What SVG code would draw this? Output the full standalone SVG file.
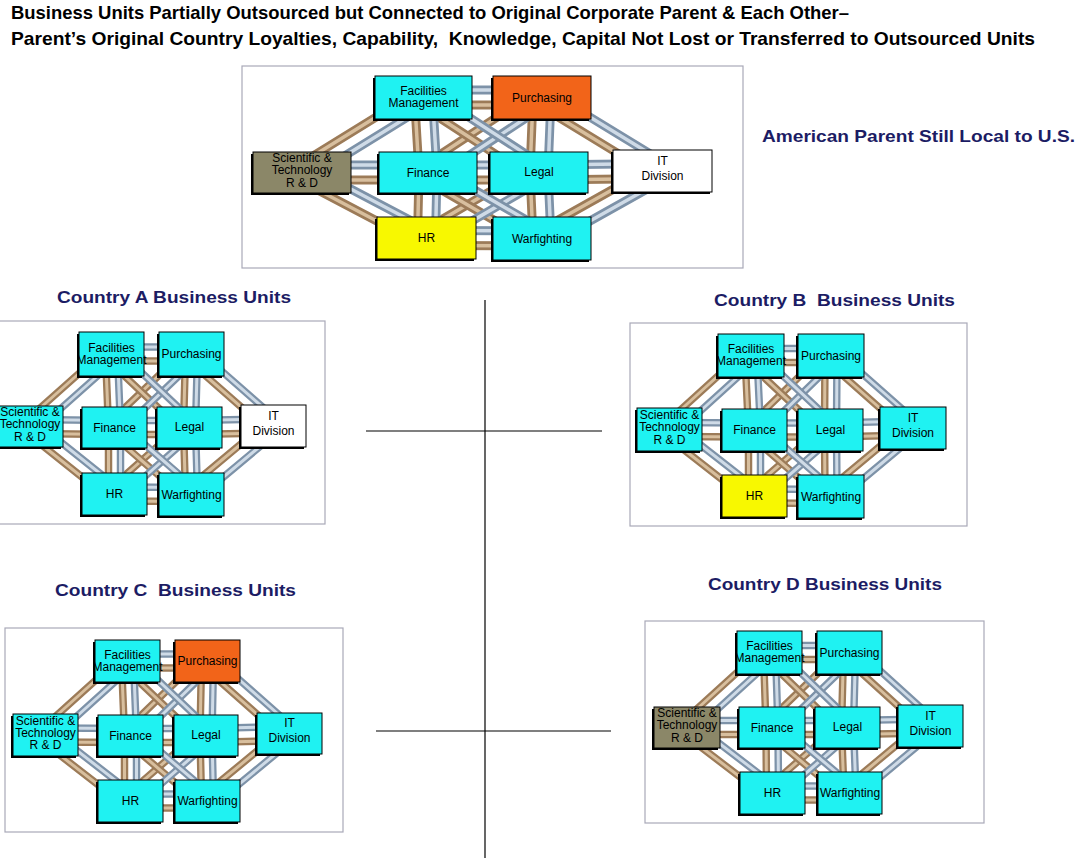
<svg xmlns="http://www.w3.org/2000/svg" width="1081" height="859" viewBox="0 0 1081 859">
<style>
.frame{fill:#fff;stroke:#a9a9b8;stroke-width:1.2}
.tb{fill:none;stroke:#9c7b58;stroke-width:9}
.th{fill:none;stroke:#d8bf9e;stroke-width:3.5}
.bb{fill:none;stroke:#7d92a8;stroke-width:9}
.bh{fill:none;stroke:#cfdbe7;stroke-width:3.5}
.sm .tb,.sm .bb{stroke-width:7.5}
.sm .th,.sm .bh{stroke-width:3}
.sh{fill:#000}
.bx{stroke:#000;stroke-width:1}
.cy{fill:#1ff2f2}
.or{fill:#f26419}
.ye{fill:#f8f800}
.ol{fill:#8b8768}
.wh{fill:#fff}
.nt{font-family:"Liberation Sans",Arial,sans-serif;font-size:12px;text-anchor:middle;fill:#000}
.hd{font-family:"Liberation Sans",Arial,sans-serif;font-size:19px;font-weight:bold;fill:#000}
.ct{font-family:"Liberation Sans",Arial,sans-serif;font-size:17px;font-weight:bold;fill:#1c1c64}
.dv{stroke:#000;stroke-width:1.2}
</style>
<defs>
<path id="T-H" d="M423.5,97.5 L542,97.5 M302,172.5 L428,172.5 M428,172.5 L539,172.5 M539,172.5 L662.5,171 M426.5,238 L542,238.5"/>
<path id="T-V" d="M423.5,97.5 L428,172.5 M428,172.5 L426.5,238 M542,97.5 L539,172.5 M539,172.5 L542,238.5"/>
<path id="T-D1" d="M302,172.5 L423.5,97.5 M542,238.5 L662.5,171 M428,172.5 L542,97.5 M426.5,238 L539,172.5"/>
<path id="T-D2" d="M302,172.5 L426.5,238 M542,97.5 L662.5,171 M423.5,97.5 L539,172.5 M428,172.5 L542,238.5"/>
<path id="A-H" d="M111.5,354 L191.5,354 M30,426.5 L114.5,427.5 M114.5,427.5 L189.5,427.5 M189.5,427.5 L273.5,426 M114.5,494 L191.5,494.5"/>
<path id="A-V" d="M111.5,354 L114.5,427.5 M114.5,427.5 L114.5,494 M191.5,354 L189.5,427.5 M189.5,427.5 L191.5,494.5"/>
<path id="A-D1" d="M30,426.5 L111.5,354 M191.5,494.5 L273.5,426 M114.5,427.5 L191.5,354 M114.5,494 L189.5,427.5"/>
<path id="A-D2" d="M30,426.5 L114.5,494 M191.5,354 L273.5,426 M111.5,354 L189.5,427.5 M114.5,427.5 L191.5,494.5"/>
<path id="B-H" d="M751,355.5 L831,355.5 M669.5,429.5 L754.5,430 M754.5,430 L830.5,430 M830.5,430 L913,428 M754.5,496 L831,496.5"/>
<path id="B-V" d="M751,355.5 L754.5,430 M754.5,430 L754.5,496 M831,355.5 L830.5,430 M830.5,430 L831,496.5"/>
<path id="B-D1" d="M669.5,429.5 L751,355.5 M831,496.5 L913,428 M754.5,430 L831,355.5 M754.5,496 L830.5,430"/>
<path id="B-D2" d="M669.5,429.5 L754.5,496 M831,355.5 L913,428 M751,355.5 L830.5,430 M754.5,430 L831,496.5"/>
<path id="C-H" d="M127.5,661 L207.5,661 M45.5,735 L130.5,735.5 M130.5,735.5 L206,735.5 M206,735.5 L289.5,733.5 M130.5,801 L207.5,801"/>
<path id="C-V" d="M127.5,661 L130.5,735.5 M130.5,735.5 L130.5,801 M207.5,661 L206,735.5 M206,735.5 L207.5,801"/>
<path id="C-D1" d="M45.5,735 L127.5,661 M207.5,801 L289.5,733.5 M130.5,735.5 L207.5,661 M130.5,801 L206,735.5"/>
<path id="C-D2" d="M45.5,735 L130.5,801 M207.5,661 L289.5,733.5 M127.5,661 L206,735.5 M130.5,735.5 L207.5,801"/>
<path id="D-H" d="M769.5,652.5 L849.5,652.5 M687,727.5 L772,727.5 M772,727.5 L847.5,727.5 M847.5,727.5 L930.5,726 M772.5,793 L850,793"/>
<path id="D-V" d="M769.5,652.5 L772,727.5 M772,727.5 L772.5,793 M849.5,652.5 L847.5,727.5 M847.5,727.5 L850,793"/>
<path id="D-D1" d="M687,727.5 L769.5,652.5 M850,793 L930.5,726 M772,727.5 L849.5,652.5 M772.5,793 L847.5,727.5"/>
<path id="D-D2" d="M687,727.5 L772.5,793 M849.5,652.5 L930.5,726 M769.5,652.5 L847.5,727.5 M772,727.5 L850,793"/>
</defs>
<rect width="1081" height="859" fill="#fff"/>

<g id="header">
<text class="hd" x="11" y="19" textLength="838" lengthAdjust="spacingAndGlyphs">Business Units Partially Outsourced but Connected to Original Corporate Parent &amp; Each Other–</text>
<text class="hd" x="11" y="45" textLength="1024" lengthAdjust="spacingAndGlyphs" xml:space="preserve">Parent’s Original Country Loyalties, Capability,  Knowledge, Capital Not Lost or Transferred to Outsourced Units</text>
</g>

<g id="titles">
<text class="ct" x="762" y="142" textLength="313" lengthAdjust="spacingAndGlyphs">American Parent Still Local to U.S.</text>
<text class="ct" x="57" y="303" textLength="234" lengthAdjust="spacingAndGlyphs">Country A Business Units</text>
<text class="ct" x="714" y="306" textLength="241" lengthAdjust="spacingAndGlyphs" xml:space="preserve">Country B  Business Units</text>
<text class="ct" x="55" y="596" textLength="241" lengthAdjust="spacingAndGlyphs" xml:space="preserve">Country C  Business Units</text>
<text class="ct" x="708" y="590" textLength="234" lengthAdjust="spacingAndGlyphs">Country D Business Units</text>
</g>

<g id="dividers">
<line class="dv" x1="485" y1="300" x2="485" y2="858"/>
<line class="dv" x1="366" y1="431" x2="602" y2="431"/>
<line class="dv" x1="376" y1="731" x2="611" y2="731"/>
</g>

<!-- TOP PANEL -->
<g id="panel-top">
<rect class="frame" x="242" y="66" width="501" height="202"/>
<g id="top-connectors">
<use href="#T-H" class="tb" transform="translate(0,7.5)"/><use href="#T-H" class="th" transform="translate(0,7.5)"/>
<use href="#T-V" class="tb" transform="translate(-9,0)"/><use href="#T-V" class="th" transform="translate(-9,0)"/>
<use href="#T-D1" class="tb" transform="translate(-6,-6)"/><use href="#T-D1" class="th" transform="translate(-6,-6)"/>
<use href="#T-D2" class="tb" transform="translate(-6,6)"/><use href="#T-D2" class="th" transform="translate(-6,6)"/>
<use href="#T-H" class="bb" transform="translate(0,-7.5)"/><use href="#T-H" class="bh" transform="translate(0,-7.5)"/>
<use href="#T-V" class="bb" transform="translate(9,0)"/><use href="#T-V" class="bh" transform="translate(9,0)"/>
<use href="#T-D1" class="bb" transform="translate(6,6)"/><use href="#T-D1" class="bh" transform="translate(6,6)"/>
<use href="#T-D2" class="bb" transform="translate(6,-6)"/><use href="#T-D2" class="bh" transform="translate(6,-6)"/>
</g>
<g id="top-facilities"><rect class="sh" x="373" y="78" width="97" height="43"/><rect class="bx cy" x="375" y="76" width="97" height="43"/><text class="nt" x="423.5" y="95">Facilities</text><text class="nt" x="423.5" y="107">Management</text></g>
<g id="top-purchasing"><rect class="sh" x="491" y="78" width="98" height="43"/><rect class="bx or" x="493" y="76" width="98" height="43"/><text class="nt" x="542" y="101.5">Purchasing</text></g>
<g id="top-scientific"><rect class="sh" x="251" y="154" width="98" height="41"/><rect class="bx ol" x="253" y="152" width="98" height="41"/><text class="nt" x="302" y="162">Scientific &amp;</text><text class="nt" x="302" y="174">Technology</text><text class="nt" x="302" y="186.5">R &amp; D</text></g>
<g id="top-finance"><rect class="sh" x="377" y="154" width="98" height="41"/><rect class="bx cy" x="379" y="152" width="98" height="41"/><text class="nt" x="428" y="176.5">Finance</text></g>
<g id="top-legal"><rect class="sh" x="488" y="154" width="98" height="41"/><rect class="bx cy" x="490" y="152" width="98" height="41"/><text class="nt" x="539" y="176">Legal</text></g>
<g id="top-it"><rect class="sh" x="611" y="152" width="99" height="42"/><rect class="bx wh" x="613" y="150" width="99" height="42"/><text class="nt" x="662.5" y="164.5">IT</text><text class="nt" x="662.5" y="179.5">Division</text></g>
<g id="top-hr"><rect class="sh" x="375" y="219" width="99" height="42"/><rect class="bx ye" x="377" y="217" width="99" height="42"/><text class="nt" x="426.5" y="242">HR</text></g>
<g id="top-warfighting"><rect class="sh" x="491" y="219" width="98" height="43"/><rect class="bx cy" x="493" y="217" width="98" height="43"/><text class="nt" x="542" y="242.5">Warfighting</text></g>
</g>

<!-- PANEL A -->
<g id="panel-a">
<rect class="frame" x="-2" y="321" width="327" height="203"/>
<g id="a-connectors" class="sm">
<use href="#A-H" class="tb" transform="translate(0,7)"/><use href="#A-H" class="th" transform="translate(0,7)"/>
<use href="#A-V" class="tb" transform="translate(-6,0)"/><use href="#A-V" class="th" transform="translate(-6,0)"/>
<use href="#A-D1" class="tb" transform="translate(-5,-5)"/><use href="#A-D1" class="th" transform="translate(-5,-5)"/>
<use href="#A-D2" class="tb" transform="translate(-5,5)"/><use href="#A-D2" class="th" transform="translate(-5,5)"/>
<use href="#A-H" class="bb" transform="translate(0,-7)"/><use href="#A-H" class="bh" transform="translate(0,-7)"/>
<use href="#A-V" class="bb" transform="translate(6,0)"/><use href="#A-V" class="bh" transform="translate(6,0)"/>
<use href="#A-D1" class="bb" transform="translate(5,5)"/><use href="#A-D1" class="bh" transform="translate(5,5)"/>
<use href="#A-D2" class="bb" transform="translate(5,-5)"/><use href="#A-D2" class="bh" transform="translate(5,-5)"/>
</g>
<g id="a-facilities"><rect class="sh" x="77" y="334" width="65" height="44"/><rect class="bx cy" x="79" y="332" width="65" height="44"/><text class="nt" x="111.5" y="351.5">Facilities</text><text class="nt" x="111.5" y="363.5">Management</text></g>
<g id="a-purchasing"><rect class="sh" x="157" y="334" width="65" height="44"/><rect class="bx cy" x="159" y="332" width="65" height="44"/><text class="nt" x="191.5" y="358">Purchasing</text></g>
<g id="a-scientific"><rect class="sh" x="-5" y="408" width="66" height="41"/><rect class="bx cy" x="-3" y="406" width="66" height="41"/><text class="nt" x="30" y="416">Scientific &amp;</text><text class="nt" x="30" y="428">Technology</text><text class="nt" x="30" y="440.5">R &amp; D</text></g>
<g id="a-finance"><rect class="sh" x="80" y="409" width="65" height="41"/><rect class="bx cy" x="82" y="407" width="65" height="41"/><text class="nt" x="114.5" y="431.5">Finance</text></g>
<g id="a-legal"><rect class="sh" x="155" y="409" width="65" height="41"/><rect class="bx cy" x="157" y="407" width="65" height="41"/><text class="nt" x="189.5" y="431">Legal</text></g>
<g id="a-it"><rect class="sh" x="239" y="407" width="65" height="42"/><rect class="bx wh" x="241" y="405" width="65" height="42"/><text class="nt" x="273.5" y="419.5">IT</text><text class="nt" x="273.5" y="434.5">Division</text></g>
<g id="a-hr"><rect class="sh" x="80" y="475" width="65" height="42"/><rect class="bx cy" x="82" y="473" width="65" height="42"/><text class="nt" x="114.5" y="498">HR</text></g>
<g id="a-warfighting"><rect class="sh" x="157" y="475" width="65" height="43"/><rect class="bx cy" x="159" y="473" width="65" height="43"/><text class="nt" x="191.5" y="498.5">Warfighting</text></g>
</g>

<!-- PANEL B -->
<g id="panel-b">
<rect class="frame" x="630" y="323" width="337" height="203"/>
<g id="b-connectors" class="sm">
<use href="#B-H" class="tb" transform="translate(0,7)"/><use href="#B-H" class="th" transform="translate(0,7)"/>
<use href="#B-V" class="tb" transform="translate(-6,0)"/><use href="#B-V" class="th" transform="translate(-6,0)"/>
<use href="#B-D1" class="tb" transform="translate(-5,-5)"/><use href="#B-D1" class="th" transform="translate(-5,-5)"/>
<use href="#B-D2" class="tb" transform="translate(-5,5)"/><use href="#B-D2" class="th" transform="translate(-5,5)"/>
<use href="#B-H" class="bb" transform="translate(0,-7)"/><use href="#B-H" class="bh" transform="translate(0,-7)"/>
<use href="#B-V" class="bb" transform="translate(6,0)"/><use href="#B-V" class="bh" transform="translate(6,0)"/>
<use href="#B-D1" class="bb" transform="translate(5,5)"/><use href="#B-D1" class="bh" transform="translate(5,5)"/>
<use href="#B-D2" class="bb" transform="translate(5,-5)"/><use href="#B-D2" class="bh" transform="translate(5,-5)"/>
</g>
<g id="b-facilities"><rect class="sh" x="716" y="336" width="66" height="43"/><rect class="bx cy" x="718" y="334" width="66" height="43"/><text class="nt" x="751" y="353">Facilities</text><text class="nt" x="751" y="365">Management</text></g>
<g id="b-purchasing"><rect class="sh" x="796" y="336" width="66" height="43"/><rect class="bx cy" x="798" y="334" width="66" height="43"/><text class="nt" x="831" y="359.5">Purchasing</text></g>
<g id="b-scientific"><rect class="sh" x="635" y="410" width="65" height="43"/><rect class="bx cy" x="637" y="408" width="65" height="43"/><text class="nt" x="669.5" y="419">Scientific &amp;</text><text class="nt" x="669.5" y="431">Technology</text><text class="nt" x="669.5" y="443.5">R &amp; D</text></g>
<g id="b-finance"><rect class="sh" x="720" y="411" width="65" height="42"/><rect class="bx cy" x="722" y="409" width="65" height="42"/><text class="nt" x="754.5" y="434">Finance</text></g>
<g id="b-legal"><rect class="sh" x="796" y="411" width="65" height="42"/><rect class="bx cy" x="798" y="409" width="65" height="42"/><text class="nt" x="830.5" y="433.5">Legal</text></g>
<g id="b-it"><rect class="sh" x="878" y="409" width="66" height="42"/><rect class="bx cy" x="880" y="407" width="66" height="42"/><text class="nt" x="913" y="421.5">IT</text><text class="nt" x="913" y="436.5">Division</text></g>
<g id="b-hr"><rect class="sh" x="720" y="477" width="65" height="42"/><rect class="bx ye" x="722" y="475" width="65" height="42"/><text class="nt" x="754.5" y="500">HR</text></g>
<g id="b-warfighting"><rect class="sh" x="796" y="477" width="66" height="43"/><rect class="bx cy" x="798" y="475" width="66" height="43"/><text class="nt" x="831" y="500.5">Warfighting</text></g>
</g>

<!-- PANEL C -->
<g id="panel-c">
<rect class="frame" x="5" y="628" width="338" height="204"/>
<g id="c-connectors" class="sm">
<use href="#C-H" class="tb" transform="translate(0,7)"/><use href="#C-H" class="th" transform="translate(0,7)"/>
<use href="#C-V" class="tb" transform="translate(-6,0)"/><use href="#C-V" class="th" transform="translate(-6,0)"/>
<use href="#C-D1" class="tb" transform="translate(-5,-5)"/><use href="#C-D1" class="th" transform="translate(-5,-5)"/>
<use href="#C-D2" class="tb" transform="translate(-5,5)"/><use href="#C-D2" class="th" transform="translate(-5,5)"/>
<use href="#C-H" class="bb" transform="translate(0,-7)"/><use href="#C-H" class="bh" transform="translate(0,-7)"/>
<use href="#C-V" class="bb" transform="translate(6,0)"/><use href="#C-V" class="bh" transform="translate(6,0)"/>
<use href="#C-D1" class="bb" transform="translate(5,5)"/><use href="#C-D1" class="bh" transform="translate(5,5)"/>
<use href="#C-D2" class="bb" transform="translate(5,-5)"/><use href="#C-D2" class="bh" transform="translate(5,-5)"/>
</g>
<g id="c-facilities"><rect class="sh" x="93" y="642" width="65" height="42"/><rect class="bx cy" x="95" y="640" width="65" height="42"/><text class="nt" x="127.5" y="658.5">Facilities</text><text class="nt" x="127.5" y="670.5">Management</text></g>
<g id="c-purchasing"><rect class="sh" x="173" y="642" width="65" height="42"/><rect class="bx or" x="175" y="640" width="65" height="42"/><text class="nt" x="207.5" y="665">Purchasing</text></g>
<g id="c-scientific"><rect class="sh" x="11" y="716" width="65" height="42"/><rect class="bx cy" x="13" y="714" width="65" height="42"/><text class="nt" x="45.5" y="724.5">Scientific &amp;</text><text class="nt" x="45.5" y="736.5">Technology</text><text class="nt" x="45.5" y="749">R &amp; D</text></g>
<g id="c-finance"><rect class="sh" x="96" y="717" width="65" height="41"/><rect class="bx cy" x="98" y="715" width="65" height="41"/><text class="nt" x="130.5" y="739.5">Finance</text></g>
<g id="c-legal"><rect class="sh" x="172" y="717" width="64" height="41"/><rect class="bx cy" x="174" y="715" width="64" height="41"/><text class="nt" x="206" y="739">Legal</text></g>
<g id="c-it"><rect class="sh" x="255" y="715" width="65" height="41"/><rect class="bx cy" x="257" y="713" width="65" height="41"/><text class="nt" x="289.5" y="727">IT</text><text class="nt" x="289.5" y="742">Division</text></g>
<g id="c-hr"><rect class="sh" x="96" y="782" width="65" height="42"/><rect class="bx cy" x="98" y="780" width="65" height="42"/><text class="nt" x="130.5" y="805">HR</text></g>
<g id="c-warfighting"><rect class="sh" x="173" y="782" width="65" height="42"/><rect class="bx cy" x="175" y="780" width="65" height="42"/><text class="nt" x="207.5" y="805">Warfighting</text></g>
</g>

<!-- PANEL D -->
<g id="panel-d">
<rect class="frame" x="645" y="621" width="339" height="202"/>
<g id="d-connectors" class="sm">
<use href="#D-H" class="tb" transform="translate(0,7)"/><use href="#D-H" class="th" transform="translate(0,7)"/>
<use href="#D-V" class="tb" transform="translate(-6,0)"/><use href="#D-V" class="th" transform="translate(-6,0)"/>
<use href="#D-D1" class="tb" transform="translate(-5,-5)"/><use href="#D-D1" class="th" transform="translate(-5,-5)"/>
<use href="#D-D2" class="tb" transform="translate(-5,5)"/><use href="#D-D2" class="th" transform="translate(-5,5)"/>
<use href="#D-H" class="bb" transform="translate(0,-7)"/><use href="#D-H" class="bh" transform="translate(0,-7)"/>
<use href="#D-V" class="bb" transform="translate(6,0)"/><use href="#D-V" class="bh" transform="translate(6,0)"/>
<use href="#D-D1" class="bb" transform="translate(5,5)"/><use href="#D-D1" class="bh" transform="translate(5,5)"/>
<use href="#D-D2" class="bb" transform="translate(5,-5)"/><use href="#D-D2" class="bh" transform="translate(5,-5)"/>
</g>
<g id="d-facilities"><rect class="sh" x="735" y="633" width="65" height="43"/><rect class="bx cy" x="737" y="631" width="65" height="43"/><text class="nt" x="769.5" y="650">Facilities</text><text class="nt" x="769.5" y="662">Management</text></g>
<g id="d-purchasing"><rect class="sh" x="815" y="633" width="65" height="43"/><rect class="bx cy" x="817" y="631" width="65" height="43"/><text class="nt" x="849.5" y="656.5">Purchasing</text></g>
<g id="d-scientific"><rect class="sh" x="652" y="709" width="66" height="41"/><rect class="bx ol" x="654" y="707" width="66" height="41"/><text class="nt" x="687" y="717">Scientific &amp;</text><text class="nt" x="687" y="729">Technology</text><text class="nt" x="687" y="741.5">R &amp; D</text></g>
<g id="d-finance"><rect class="sh" x="737" y="709" width="66" height="41"/><rect class="bx cy" x="739" y="707" width="66" height="41"/><text class="nt" x="772" y="731.5">Finance</text></g>
<g id="d-legal"><rect class="sh" x="813" y="709" width="65" height="41"/><rect class="bx cy" x="815" y="707" width="65" height="41"/><text class="nt" x="847.5" y="731">Legal</text></g>
<g id="d-it"><rect class="sh" x="896" y="707" width="65" height="42"/><rect class="bx cy" x="898" y="705" width="65" height="42"/><text class="nt" x="930.5" y="719.5">IT</text><text class="nt" x="930.5" y="734.5">Division</text></g>
<g id="d-hr"><rect class="sh" x="738" y="774" width="65" height="42"/><rect class="bx cy" x="740" y="772" width="65" height="42"/><text class="nt" x="772.5" y="797">HR</text></g>
<g id="d-warfighting"><rect class="sh" x="816" y="774" width="64" height="42"/><rect class="bx cy" x="818" y="772" width="64" height="42"/><text class="nt" x="850" y="797">Warfighting</text></g>
</g>
</svg>
